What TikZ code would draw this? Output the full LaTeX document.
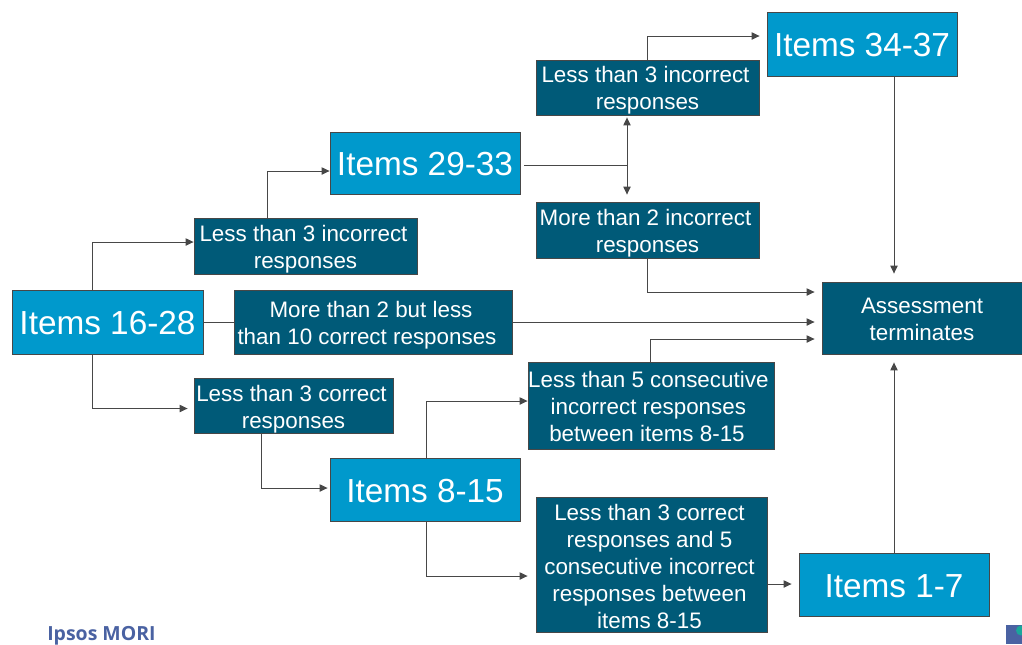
\documentclass[tikz,border=0pt]{standalone}
\usepackage{fontspec}
\usetikzlibrary{arrows.meta}
\setmainfont{Liberation Sans}
\newfontfamily\logofont{Open Sans}
\definecolor{itemblue}{HTML}{0099CC}
\definecolor{respblue}{HTML}{005A78}
\definecolor{edgegrey}{HTML}{474747}
\definecolor{logoblue}{HTML}{4A62A2}
\definecolor{logoteal}{HTML}{1AA79A}
\newcommand{\tailgap}[1][3pt]{\kern#1}
\newcommand{\headgap}[1][17pt]{\rule{0pt}{#1}}
\begin{document}
\begin{tikzpicture}[x=0.75pt,y=-0.75pt]
    % Define styles
    \tikzstyle{itembox}=[draw=edgegrey,fill=itemblue,text=white,font=\fontsize{25}{30}\selectfont,inner sep=0pt,line width=0.6pt,execute at begin node={\rule{0pt}{19pt}}]
    \tikzstyle{respbox}=[draw=edgegrey,fill=respblue,text=white,font=\fontsize{16.8}{20.25}\selectfont,align=center,inner sep=0pt,line width=0.6pt]
    \tikzstyle{plainedge}=[draw=edgegrey,line width=0.75pt]
    \tikzstyle{outedge}=[plainedge,-{Triangle[length=6pt,width=5.5pt]}]
    \useasboundingbox (0,0) rectangle (1022,644);

    % Draw the item boxes
    \node[itembox,minimum width=142.5pt,minimum height=48pt] (items3437) at (862,44) {Items 34-37};
    \node[itembox,minimum width=142.5pt,minimum height=46.5pt] (items2933) at (425,163) {Items 29-33};
    \node[itembox,minimum width=143.25pt,minimum height=48pt] (items1628) at (107.5,322) {Items 16-28};
    \node[itembox,minimum width=142.5pt,minimum height=47.25pt] (items815) at (425,489.5) {Items 8-15};
    \node[itembox,minimum width=142.5pt,minimum height=47.25pt] (items17) at (894,584.5) {Items 1-7};

    % Draw the response boxes
    \node[respbox,minimum width=167.25pt,minimum height=41.25pt] (lessincb) at (647.5,87.5) {\headgap[16pt]Less than 3 incorrect\tailgap\\responses};
    \node[respbox,minimum width=167.25pt,minimum height=42pt] (moreinc) at (647.5,230) {\headgap More than 2 incorrect\tailgap\\responses};
    \node[respbox,minimum width=167.25pt,minimum height=42pt] (lessinca) at (305.5,246) {\headgap Less than 3 incorrect\tailgap\\responses};
    \node[respbox,minimum width=208.5pt,minimum height=48pt] (midcorr) at (373,322) {\headgap More than 2 but less\tailgap\\than 10 correct responses\tailgap[9pt]};
    \node[respbox,minimum width=150pt,minimum height=54pt] (assess) at (922,318) {\headgap[13.5pt]Assessment\\terminates};
    \node[respbox,minimum width=149.25pt,minimum height=41.25pt] (lesscorr) at (293.5,405.5) {\headgap Less than 3 correct\tailgap\\responses};
    \node[respbox,minimum width=184.5pt,minimum height=65.25pt] (consec) at (651,405.5) {\headgap[14pt]Less than 5 consecutive\tailgap[4pt]\\incorrect responses\tailgap[4pt]\\between items 8-15\tailgap[6pt]};
    \node[respbox,minimum width=173.25pt,minimum height=101.25pt] (lesscons) at (651.5,564.5) {\headgap[15pt]Less than 3 correct\tailgap\\responses and 5\tailgap\\consecutive incorrect\tailgap\\responses between\tailgap\\items 8-15\tailgap};

    % Draw the logo
    \node[anchor=base west,inner sep=0pt,text=logoblue,font=\logofont\fontsize{14.6}{16}\selectfont\bfseries] (logotext) at (47,640) {Ipsos MORI};
    \node[fill=logoblue,anchor=south east,minimum width=12pt,minimum height=14.25pt,inner sep=0pt] (logomark) at (1022,644) {};
    \fill[logoteal] (logomark.north east) ++(-1,6) circle (5);

    % Draw the junction
    \coordinate (split) at (627,165);

    % Draw the edges
    \draw[outedge] ([shift={(-15.5,0)}]items1628.north) |- ([shift={(0,-4)}]lessinca.west);
    \draw[outedge] ([shift={(-38.5,0)}]lessinca.north) |- ([shift={(0,8)}]items2933.west);
    \draw[plainedge] ([shift={(4,2)}]items2933.east) -- (split);
    \draw[outedge] (split) -- ([shift={(-20.5,2)}]lessincb.south);
    \draw[outedge] (split) -- ([shift={(-20.5,-7)}]moreinc.north);
    \draw[outedge] (lessincb.north) |- ([shift={(-7,-8)}]items3437.west);
    \draw[outedge,shorten >=6pt] ([shift={(32,0)}]items3437.south) -- ([shift={(-28,0)}]assess.north);
    \draw[outedge] (moreinc.south) |- ([shift={(-7,-26)}]assess.west);
    \draw[plainedge] (items1628.east) -- (midcorr.west);
    \draw[outedge] (midcorr.east) -- ([shift={(-7,4)}]assess.west);
    \draw[outedge] ([shift={(-1,0)}]consec.north) |- ([shift={(-7,21)}]assess.west);
    \draw[outedge] ([shift={(-15.5,0)}]items1628.south) |- ([shift={(-6,3)}]lesscorr.west);
    \draw[outedge] ([shift={(-32.5,0)}]lesscorr.south) |- ([shift={(-2,-1.5)}]items815.west);
    \draw[outedge] ([shift={(1,0)}]items815.north) |- ([shift={(0,-4.5)}]consec.west);
    \draw[outedge] ([shift={(1,0)}]items815.south) |- ([shift={(-8,11.5)}]lesscons.west);
    \draw[outedge] ([shift={(0,19.5)}]lesscons.east) -- ([shift={(-7,-0.5)}]items17.west);
    \draw[outedge] (items17.north) -- ([shift={(-28,8)}]assess.south);
\end{tikzpicture}
\end{document}
